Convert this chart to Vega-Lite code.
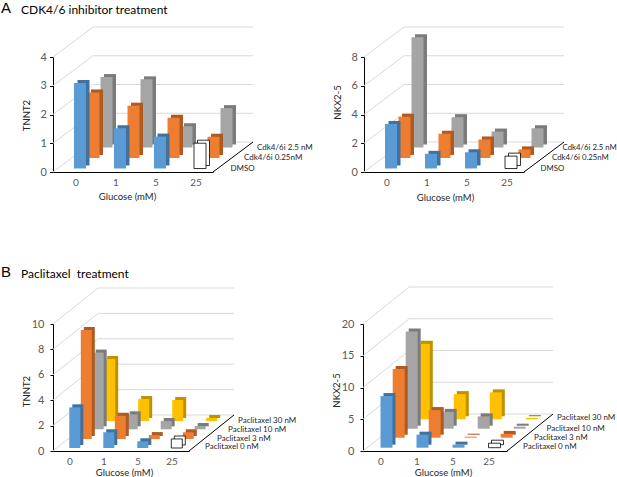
{
  "$schema": "https://vega.github.io/schema/vega-lite/v6.json",
  "padding": {"left": 1, "top": 0, "right": 0, "bottom": 0},
  "datasets": {
    "a1": [
      {"series": "DMSO", "glucose": "0", "value": 2.97},
      {"series": "DMSO", "glucose": "1", "value": 1.4},
      {"series": "DMSO", "glucose": "5", "value": 1.11},
      {"series": "DMSO", "glucose": "25", "value": 0.88},
      {"series": "Cdk4/6i 0.25nM", "glucose": "0", "value": 2.28},
      {"series": "Cdk4/6i 0.25nM", "glucose": "1", "value": 1.82},
      {"series": "Cdk4/6i 0.25nM", "glucose": "5", "value": 1.4},
      {"series": "Cdk4/6i 0.25nM", "glucose": "25", "value": 0.74},
      {"series": "Cdk4/6i 2.5 nM", "glucose": "0", "value": 2.45},
      {"series": "Cdk4/6i 2.5 nM", "glucose": "1", "value": 2.37},
      {"series": "Cdk4/6i 2.5 nM", "glucose": "5", "value": 0.74},
      {"series": "Cdk4/6i 2.5 nM", "glucose": "25", "value": 1.37}
    ],
    "a2": [
      {"series": "DMSO", "glucose": "0", "value": 3.1},
      {"series": "DMSO", "glucose": "1", "value": 1.02},
      {"series": "DMSO", "glucose": "5", "value": 1.13},
      {"series": "DMSO", "glucose": "25", "value": 0.86},
      {"series": "Cdk4/6i 0.25nM", "glucose": "0", "value": 2.87},
      {"series": "Cdk4/6i 0.25nM", "glucose": "1", "value": 1.69},
      {"series": "Cdk4/6i 0.25nM", "glucose": "5", "value": 1.29},
      {"series": "Cdk4/6i 0.25nM", "glucose": "25", "value": 0.6},
      {"series": "Cdk4/6i 2.5 nM", "glucose": "0", "value": 7.67},
      {"series": "Cdk4/6i 2.5 nM", "glucose": "1", "value": 2.11},
      {"series": "Cdk4/6i 2.5 nM", "glucose": "5", "value": 1.11},
      {"series": "Cdk4/6i 2.5 nM", "glucose": "25", "value": 1.34}
    ],
    "b1": [
      {"series": "Paclitaxel 0 nM", "glucose": "0", "value": 3.2},
      {"series": "Paclitaxel 0 nM", "glucose": "1", "value": 1.24},
      {"series": "Paclitaxel 0 nM", "glucose": "5", "value": 0.53},
      {"series": "Paclitaxel 0 nM", "glucose": "25", "value": 0.71},
      {"series": "Paclitaxel 3 nM", "glucose": "0", "value": 8.58},
      {"series": "Paclitaxel 3 nM", "glucose": "1", "value": 1.83},
      {"series": "Paclitaxel 3 nM", "glucose": "5", "value": 0.31},
      {"series": "Paclitaxel 3 nM", "glucose": "25", "value": 0.53},
      {"series": "Paclitaxel 10 nM", "glucose": "0", "value": 6.04},
      {"series": "Paclitaxel 10 nM", "glucose": "1", "value": 1.18},
      {"series": "Paclitaxel 10 nM", "glucose": "5", "value": 0.65},
      {"series": "Paclitaxel 10 nM", "glucose": "25", "value": 0.26},
      {"series": "Paclitaxel 30 nM", "glucose": "0", "value": 4.88},
      {"series": "Paclitaxel 30 nM", "glucose": "1", "value": 1.73},
      {"series": "Paclitaxel 30 nM", "glucose": "5", "value": 1.65},
      {"series": "Paclitaxel 30 nM", "glucose": "25", "value": 0.24}
    ],
    "b2": [
      {"series": "Paclitaxel 0 nM", "glucose": "0", "value": 8.13},
      {"series": "Paclitaxel 0 nM", "glucose": "1", "value": 2.05},
      {"series": "Paclitaxel 0 nM", "glucose": "5", "value": 0.48},
      {"series": "Paclitaxel 0 nM", "glucose": "25", "value": 0.71},
      {"series": "Paclitaxel 3 nM", "glucose": "0", "value": 10.8},
      {"series": "Paclitaxel 3 nM", "glucose": "1", "value": 4.35},
      {"series": "Paclitaxel 3 nM", "glucose": "5", "value": 0.16},
      {"series": "Paclitaxel 3 nM", "glucose": "25", "value": 0.6},
      {"series": "Paclitaxel 10 nM", "glucose": "0", "value": 15.3},
      {"series": "Paclitaxel 10 nM", "glucose": "1", "value": 2.65},
      {"series": "Paclitaxel 10 nM", "glucose": "5", "value": 1.94},
      {"series": "Paclitaxel 10 nM", "glucose": "25", "value": 0.32},
      {"series": "Paclitaxel 30 nM", "glucose": "0", "value": 11.9},
      {"series": "Paclitaxel 30 nM", "glucose": "1", "value": 3.97},
      {"series": "Paclitaxel 30 nM", "glucose": "5", "value": 4.24},
      {"series": "Paclitaxel 30 nM", "glucose": "25", "value": 0.21}
    ],
    "ta1": [{"value": 0}, {"value": 1}, {"value": 2}, {"value": 3}, {"value": 4}],
    "ta2": [{"value": 0}, {"value": 2}, {"value": 4}, {"value": 6}, {"value": 8}],
    "tb1": [{"value": 0}, {"value": 2}, {"value": 4}, {"value": 6}, {"value": 8}, {"value": 10}],
    "tb2": [{"value": 0}, {"value": 5}, {"value": 10}, {"value": 15}, {"value": 20}]
  },
  "vconcat": [
    {
      "hconcat": [
        {
          "width": 160, "height": 115,
          "title": {"text": "CDK4/6 inhibitor treatment", "anchor": "start", "fontSize": 12, "offset": 10},
          "data": {"name": "a1"},
          "encoding": {
            "y": {"field": "value", "type": "quantitative", "scale": {"domain": [0, 4], "nice": false},
                  "axis": {"title": "TNNT2", "values": [0, 1, 2, 3, 4], "labelOverlap": false, "tickSize": 3.5, "labelPadding": 3, "titleX": -27, "titleY": 58, "titleBaseline": "middle"}}
          },
          "layer": [
            {"data": {"name": "ta1"},
             "mark": {"type": "rule", "color": "#D9D9D9", "x2Offset": 40, "y2Offset": -30},
             "encoding": {
               "x": {"datum": "0", "bandPosition": 0, "type": "nominal",
                     "scale": {"domain": ["0", "1", "5", "25"], "paddingInner": 0, "paddingOuter": 0},
                     "axis": {"title": "Glucose (mM)", "labelAngle": 0, "ticks": false, "labelPadding": 5, "labelOffset": 3, "titleX": 74, "titleY": 24, "titleBaseline": "middle"}},
               "x2": {"datum": "0", "bandPosition": 0},
               "y2": {"field": "value"}
             }},
            {"data": {"name": "ta1"},
             "mark": {"type": "rule", "color": "#D9D9D9", "xOffset": 40, "x2Offset": 40, "yOffset": -30},
             "encoding": {
               "x": {"datum": "0", "bandPosition": 0, "type": "nominal"},
               "x2": {"datum": "25", "bandPosition": 1}
             }},
            {"data": {"name": "ta1"},
             "transform": [{"filter": "datum.value === 0"}],
             "mark": {"type": "rule", "color": "#000000", "x2Offset": 40, "y2Offset": -30},
             "encoding": {
               "x": {"datum": "25", "bandPosition": 1, "type": "nominal"},
               "x2": {"datum": "25", "bandPosition": 1},
               "y2": {"field": "value"}
             }},
            {"transform": [{"filter": {"field": "series", "equal": "Cdk4/6i 2.5 nM"}}],
             "mark": {"type": "bar", "width": 12, "xOffset": 37, "yOffset": -27.5, "y2Offset": -27.5, "color": "#7B7B7B"},
             "encoding": {"x": {"field": "glucose", "type": "nominal"}}},
            {"transform": [{"filter": {"field": "series", "equal": "Cdk4/6i 2.5 nM"}}],
             "mark": {"type": "bar", "width": 12, "xOffset": 33.5, "yOffset": -24.5, "y2Offset": -24.5, "color": "#A5A5A5"},
             "encoding": {"x": {"field": "glucose", "type": "nominal"}}},
            {"transform": [{"filter": {"field": "series", "equal": "Cdk4/6i 2.5 nM"}}, {"filter": {"field": "glucose", "equal": "25"}}],
             "mark": {"type": "text", "align": "left", "baseline": "middle", "fontSize": 8, "dx": 44, "dy": -24.5},
             "encoding": {"x": {"field": "glucose", "type": "nominal", "bandPosition": 1}, "y": {"datum": 0, "type": "quantitative"}, "text": {"field": "series"}}},
            {"transform": [{"filter": {"field": "series", "equal": "Cdk4/6i 0.25nM"}}],
             "mark": {"type": "bar", "width": 12, "xOffset": 24, "yOffset": -17, "y2Offset": -17, "color": "#AE5A21"},
             "encoding": {"x": {"field": "glucose", "type": "nominal"}}},
            {"transform": [{"filter": {"field": "series", "equal": "Cdk4/6i 0.25nM"}}],
             "mark": {"type": "bar", "width": 12, "xOffset": 20.5, "yOffset": -14, "y2Offset": -14, "color": "#ED7D31"},
             "encoding": {"x": {"field": "glucose", "type": "nominal"}}},
            {"transform": [{"filter": {"field": "series", "equal": "Cdk4/6i 0.25nM"}}, {"filter": {"field": "glucose", "equal": "25"}}],
             "mark": {"type": "text", "align": "left", "baseline": "middle", "fontSize": 8, "dx": 31, "dy": -14},
             "encoding": {"x": {"field": "glucose", "type": "nominal", "bandPosition": 1}, "y": {"datum": 0, "type": "quantitative"}, "text": {"field": "series"}}},
            {"transform": [{"filter": {"field": "series", "equal": "DMSO"}}],
             "mark": {"type": "bar", "width": 12, "xOffset": 10.5, "yOffset": -6.5, "y2Offset": -6.5, "strokeWidth": 0.8},
             "encoding": {"x": {"field": "glucose", "type": "nominal"},
               "color": {"condition": {"test": "datum.glucose === '25'", "value": "#FFFFFF"}, "value": "#41719C"},
               "stroke": {"condition": {"test": "datum.glucose === '25'", "value": "#000000"}, "value": "transparent"}}},
            {"transform": [{"filter": {"field": "series", "equal": "DMSO"}}],
             "mark": {"type": "bar", "width": 12, "xOffset": 7, "yOffset": -3.5, "y2Offset": -3.5, "strokeWidth": 0.8},
             "encoding": {"x": {"field": "glucose", "type": "nominal"},
               "color": {"condition": {"test": "datum.glucose === '25'", "value": "#FFFFFF"}, "value": "#5B9BD5"},
               "stroke": {"condition": {"test": "datum.glucose === '25'", "value": "#000000"}, "value": "transparent"}}},
            {"transform": [{"filter": {"field": "series", "equal": "DMSO"}}, {"filter": {"field": "glucose", "equal": "25"}}],
             "mark": {"type": "text", "align": "left", "baseline": "middle", "fontSize": 8, "dx": 17.5, "dy": -3.5},
             "encoding": {"x": {"field": "glucose", "type": "nominal", "bandPosition": 1}, "y": {"datum": 0, "type": "quantitative"}, "text": {"field": "series"}}}
          ]
        },
        {
          "width": 160, "height": 115,
          "data": {"name": "a2"},
          "encoding": {
            "y": {"field": "value", "type": "quantitative", "scale": {"domain": [0, 8], "nice": false},
                  "axis": {"title": "NKX2-5", "values": [0, 2, 4, 6, 8], "labelOverlap": false, "tickSize": 3.5, "labelPadding": 3, "titleX": -27, "titleY": 45, "titleBaseline": "middle"}}
          },
          "layer": [
            {"data": {"name": "ta2"},
             "mark": {"type": "rule", "color": "#D9D9D9", "x2Offset": 40, "y2Offset": -30},
             "encoding": {
               "x": {"datum": "0", "bandPosition": 0, "type": "nominal",
                     "scale": {"domain": ["0", "1", "5", "25"], "paddingInner": 0, "paddingOuter": 0},
                     "axis": {"title": "Glucose (mM)", "labelAngle": 0, "ticks": false, "labelPadding": 5, "labelOffset": 3, "titleX": 81, "titleY": 25, "titleBaseline": "middle"}},
               "x2": {"datum": "0", "bandPosition": 0},
               "y2": {"field": "value"}
             }},
            {"data": {"name": "ta2"},
             "mark": {"type": "rule", "color": "#D9D9D9", "xOffset": 40, "x2Offset": 40, "yOffset": -30},
             "encoding": {
               "x": {"datum": "0", "bandPosition": 0, "type": "nominal"},
               "x2": {"datum": "25", "bandPosition": 1}
             }},
            {"data": {"name": "ta2"},
             "transform": [{"filter": "datum.value === 0"}],
             "mark": {"type": "rule", "color": "#000000", "x2Offset": 40, "y2Offset": -30},
             "encoding": {
               "x": {"datum": "25", "bandPosition": 1, "type": "nominal"},
               "x2": {"datum": "25", "bandPosition": 1},
               "y2": {"field": "value"}
             }},
            {"transform": [{"filter": {"field": "series", "equal": "Cdk4/6i 2.5 nM"}}],
             "mark": {"type": "bar", "width": 12, "xOffset": 37, "yOffset": -27.5, "y2Offset": -27.5, "color": "#7B7B7B"},
             "encoding": {"x": {"field": "glucose", "type": "nominal"}}},
            {"transform": [{"filter": {"field": "series", "equal": "Cdk4/6i 2.5 nM"}}],
             "mark": {"type": "bar", "width": 12, "xOffset": 33.5, "yOffset": -24.5, "y2Offset": -24.5, "color": "#A5A5A5"},
             "encoding": {"x": {"field": "glucose", "type": "nominal"}}},
            {"transform": [{"filter": {"field": "series", "equal": "Cdk4/6i 2.5 nM"}}, {"filter": {"field": "glucose", "equal": "25"}}],
             "mark": {"type": "text", "align": "left", "baseline": "middle", "fontSize": 7.8, "dx": 38.5, "dy": -24.5},
             "encoding": {"x": {"field": "glucose", "type": "nominal", "bandPosition": 1}, "y": {"datum": 0, "type": "quantitative"}, "text": {"field": "series"}}},
            {"transform": [{"filter": {"field": "series", "equal": "Cdk4/6i 0.25nM"}}],
             "mark": {"type": "bar", "width": 12, "xOffset": 24, "yOffset": -17, "y2Offset": -17, "color": "#AE5A21"},
             "encoding": {"x": {"field": "glucose", "type": "nominal"}}},
            {"transform": [{"filter": {"field": "series", "equal": "Cdk4/6i 0.25nM"}}],
             "mark": {"type": "bar", "width": 12, "xOffset": 20.5, "yOffset": -14, "y2Offset": -14, "color": "#ED7D31"},
             "encoding": {"x": {"field": "glucose", "type": "nominal"}}},
            {"transform": [{"filter": {"field": "series", "equal": "Cdk4/6i 0.25nM"}}, {"filter": {"field": "glucose", "equal": "25"}}],
             "mark": {"type": "text", "align": "left", "baseline": "middle", "fontSize": 7.8, "dx": 28, "dy": -14},
             "encoding": {"x": {"field": "glucose", "type": "nominal", "bandPosition": 1}, "y": {"datum": 0, "type": "quantitative"}, "text": {"field": "series"}}},
            {"transform": [{"filter": {"field": "series", "equal": "DMSO"}}],
             "mark": {"type": "bar", "width": 12, "xOffset": 10.5, "yOffset": -6.5, "y2Offset": -6.5, "strokeWidth": 0.8},
             "encoding": {"x": {"field": "glucose", "type": "nominal"},
               "color": {"condition": {"test": "datum.glucose === '25'", "value": "#FFFFFF"}, "value": "#41719C"},
               "stroke": {"condition": {"test": "datum.glucose === '25'", "value": "#000000"}, "value": "transparent"}}},
            {"transform": [{"filter": {"field": "series", "equal": "DMSO"}}],
             "mark": {"type": "bar", "width": 12, "xOffset": 7, "yOffset": -3.5, "y2Offset": -3.5, "strokeWidth": 0.8},
             "encoding": {"x": {"field": "glucose", "type": "nominal"},
               "color": {"condition": {"test": "datum.glucose === '25'", "value": "#FFFFFF"}, "value": "#5B9BD5"},
               "stroke": {"condition": {"test": "datum.glucose === '25'", "value": "#000000"}, "value": "transparent"}}},
            {"transform": [{"filter": {"field": "series", "equal": "DMSO"}}, {"filter": {"field": "glucose", "equal": "25"}}],
             "mark": {"type": "text", "align": "left", "baseline": "middle", "fontSize": 7.8, "dx": 16.5, "dy": -3.5},
             "encoding": {"x": {"field": "glucose", "type": "nominal", "bandPosition": 1}, "y": {"datum": 0, "type": "quantitative"}, "text": {"field": "series"}}}
          ]
        }
      ],
      "spacing": 151,
      "bounds": "flush",
      "title": {"text": "A", "anchor": "start", "fontSize": 15, "font": "Liberation Sans", "dx": -20, "dy": 12, "offset": 0}
    },
    {
      "hconcat": [
        {
          "width": 136, "height": 127,
          "title": {"text": "Paclitaxel\u00a0 treatment", "anchor": "start", "fontSize": 12, "offset": 7},
          "data": {"name": "b1"},
          "encoding": {
            "y": {"field": "value", "type": "quantitative", "scale": {"domain": [0, 10], "nice": false},
                  "axis": {"title": "TNNT2", "values": [0, 2, 4, 6, 8, 10], "labelOverlap": false, "tickSize": 3, "labelPadding": 6, "titleX": -27, "titleY": 67, "titleBaseline": "middle"}}
          },
          "layer": [
            {"data": {"name": "tb1"},
             "mark": {"type": "rule", "color": "#D9D9D9", "x2Offset": 45, "y2Offset": -36},
             "encoding": {
               "x": {"datum": "0", "bandPosition": 0, "type": "nominal",
                     "scale": {"domain": ["0", "1", "5", "25"], "paddingInner": 0, "paddingOuter": 0},
                     "axis": {"title": "Glucose (mM)", "labelAngle": 0, "ticks": false, "labelPadding": 5, "titleX": 71, "titleY": 21, "titleBaseline": "middle"}},
               "x2": {"datum": "0", "bandPosition": 0},
               "y2": {"field": "value"}
             }},
            {"data": {"name": "tb1"},
             "mark": {"type": "rule", "color": "#D9D9D9", "xOffset": 45, "x2Offset": 45, "yOffset": -36},
             "encoding": {
               "x": {"datum": "0", "bandPosition": 0, "type": "nominal"},
               "x2": {"datum": "25", "bandPosition": 1}
             }},
            {"data": {"name": "tb1"},
             "transform": [{"filter": "datum.value === 0"}],
             "mark": {"type": "rule", "color": "#000000", "x2Offset": 45, "y2Offset": -36},
             "encoding": {
               "x": {"datum": "25", "bandPosition": 1, "type": "nominal"},
               "x2": {"datum": "25", "bandPosition": 1},
               "y2": {"field": "value"}
             }},
            {"transform": [{"filter": {"field": "series", "equal": "Paclitaxel 30 nM"}}],
             "mark": {"type": "bar", "width": 11, "xOffset": 42.7, "yOffset": -33, "y2Offset": -33, "color": "#BF9000"},
             "encoding": {"x": {"field": "glucose", "type": "nominal"}}},
            {"transform": [{"filter": {"field": "series", "equal": "Paclitaxel 30 nM"}}],
             "mark": {"type": "bar", "width": 11, "xOffset": 39.7, "yOffset": -30, "y2Offset": -30, "color": "#FFC000"},
             "encoding": {"x": {"field": "glucose", "type": "nominal"}}},
            {"transform": [{"filter": {"field": "series", "equal": "Paclitaxel 30 nM"}}, {"filter": {"field": "glucose", "equal": "25"}}],
             "mark": {"type": "text", "align": "left", "baseline": "middle", "fontSize": 8, "dx": 49, "dy": -30},
             "encoding": {"x": {"field": "glucose", "type": "nominal", "bandPosition": 1}, "y": {"datum": 0, "type": "quantitative"}, "text": {"field": "series"}}},
            {"transform": [{"filter": {"field": "series", "equal": "Paclitaxel 10 nM"}}],
             "mark": {"type": "bar", "width": 11, "xOffset": 31.2, "yOffset": -24.7, "y2Offset": -24.7, "color": "#7B7B7B"},
             "encoding": {"x": {"field": "glucose", "type": "nominal"}}},
            {"transform": [{"filter": {"field": "series", "equal": "Paclitaxel 10 nM"}}],
             "mark": {"type": "bar", "width": 11, "xOffset": 28.2, "yOffset": -21.7, "y2Offset": -21.7, "color": "#A5A5A5"},
             "encoding": {"x": {"field": "glucose", "type": "nominal"}}},
            {"transform": [{"filter": {"field": "series", "equal": "Paclitaxel 10 nM"}}, {"filter": {"field": "glucose", "equal": "25"}}],
             "mark": {"type": "text", "align": "left", "baseline": "middle", "fontSize": 8, "dx": 39, "dy": -21},
             "encoding": {"x": {"field": "glucose", "type": "nominal", "bandPosition": 1}, "y": {"datum": 0, "type": "quantitative"}, "text": {"field": "series"}}},
            {"transform": [{"filter": {"field": "series", "equal": "Paclitaxel 3 nM"}}],
             "mark": {"type": "bar", "width": 11, "xOffset": 19.3, "yOffset": -15, "y2Offset": -15, "color": "#AE5A21"},
             "encoding": {"x": {"field": "glucose", "type": "nominal"}}},
            {"transform": [{"filter": {"field": "series", "equal": "Paclitaxel 3 nM"}}],
             "mark": {"type": "bar", "width": 11, "xOffset": 16.3, "yOffset": -12, "y2Offset": -12, "color": "#ED7D31"},
             "encoding": {"x": {"field": "glucose", "type": "nominal"}}},
            {"transform": [{"filter": {"field": "series", "equal": "Paclitaxel 3 nM"}}, {"filter": {"field": "glucose", "equal": "25"}}],
             "mark": {"type": "text", "align": "left", "baseline": "middle", "fontSize": 8, "dx": 28, "dy": -12.5},
             "encoding": {"x": {"field": "glucose", "type": "nominal", "bandPosition": 1}, "y": {"datum": 0, "type": "quantitative"}, "text": {"field": "series"}}},
            {"transform": [{"filter": {"field": "series", "equal": "Paclitaxel 0 nM"}}],
             "mark": {"type": "bar", "width": 11, "xOffset": 7.8, "yOffset": -6, "y2Offset": -6, "strokeWidth": 0.8},
             "encoding": {"x": {"field": "glucose", "type": "nominal"},
               "color": {"condition": {"test": "datum.glucose === '25'", "value": "#FFFFFF"}, "value": "#41719C"},
               "stroke": {"condition": {"test": "datum.glucose === '25'", "value": "#000000"}, "value": "transparent"}}},
            {"transform": [{"filter": {"field": "series", "equal": "Paclitaxel 0 nM"}}],
             "mark": {"type": "bar", "width": 11, "xOffset": 4.8, "yOffset": -3, "y2Offset": -3, "strokeWidth": 0.8},
             "encoding": {"x": {"field": "glucose", "type": "nominal"},
               "color": {"condition": {"test": "datum.glucose === '25'", "value": "#FFFFFF"}, "value": "#5B9BD5"},
               "stroke": {"condition": {"test": "datum.glucose === '25'", "value": "#000000"}, "value": "transparent"}}},
            {"transform": [{"filter": {"field": "series", "equal": "Paclitaxel 0 nM"}}, {"filter": {"field": "glucose", "equal": "25"}}],
             "mark": {"type": "text", "align": "left", "baseline": "middle", "fontSize": 8, "dx": 16, "dy": -4},
             "encoding": {"x": {"field": "glucose", "type": "nominal", "bandPosition": 1}, "y": {"datum": 0, "type": "quantitative"}, "text": {"field": "series"}}}
          ]
        },
        {
          "width": 144, "height": 127,
          "data": {"name": "b2"},
          "encoding": {
            "y": {"field": "value", "type": "quantitative", "scale": {"domain": [0, 20], "nice": false},
                  "axis": {"title": "NKX2-5", "values": [0, 5, 10, 15, 20], "labelOverlap": false, "tickSize": 3, "labelPadding": 6, "titleX": -27, "titleY": 66, "titleBaseline": "middle"}}
          },
          "layer": [
            {"data": {"name": "tb2"},
             "mark": {"type": "rule", "color": "#D9D9D9", "x2Offset": 46, "y2Offset": -37},
             "encoding": {
               "x": {"datum": "0", "bandPosition": 0, "type": "nominal",
                     "scale": {"domain": ["0", "1", "5", "25"], "paddingInner": 0, "paddingOuter": 0},
                     "axis": {"title": "Glucose (mM)", "labelAngle": 0, "ticks": false, "labelPadding": 5, "titleX": 80, "titleY": 21, "titleBaseline": "middle"}},
               "x2": {"datum": "0", "bandPosition": 0},
               "y2": {"field": "value"}
             }},
            {"data": {"name": "tb2"},
             "mark": {"type": "rule", "color": "#D9D9D9", "xOffset": 46, "x2Offset": 46, "yOffset": -37},
             "encoding": {
               "x": {"datum": "0", "bandPosition": 0, "type": "nominal"},
               "x2": {"datum": "25", "bandPosition": 1}
             }},
            {"data": {"name": "tb2"},
             "transform": [{"filter": "datum.value === 0"}],
             "mark": {"type": "rule", "color": "#000000", "x2Offset": 46, "y2Offset": -37},
             "encoding": {
               "x": {"datum": "25", "bandPosition": 1, "type": "nominal"},
               "x2": {"datum": "25", "bandPosition": 1},
               "y2": {"field": "value"}
             }},
            {"transform": [{"filter": {"field": "series", "equal": "Paclitaxel 30 nM"}}],
             "mark": {"type": "bar", "width": 12, "xOffset": 45.8, "yOffset": -34.7, "y2Offset": -34.7, "color": "#BF9000"},
             "encoding": {"x": {"field": "glucose", "type": "nominal"}}},
            {"transform": [{"filter": {"field": "series", "equal": "Paclitaxel 30 nM"}}],
             "mark": {"type": "bar", "width": 12, "xOffset": 42.8, "yOffset": -31.7, "y2Offset": -31.7, "color": "#FFC000"},
             "encoding": {"x": {"field": "glucose", "type": "nominal"}}},
            {"transform": [{"filter": {"field": "series", "equal": "Paclitaxel 30 nM"}}, {"filter": {"field": "glucose", "equal": "25"}}],
             "mark": {"type": "text", "align": "left", "baseline": "middle", "fontSize": 8, "dx": 50, "dy": -33},
             "encoding": {"x": {"field": "glucose", "type": "nominal", "bandPosition": 1}, "y": {"datum": 0, "type": "quantitative"}, "text": {"field": "series"}}},
            {"transform": [{"filter": {"field": "series", "equal": "Paclitaxel 10 nM"}}],
             "mark": {"type": "bar", "width": 12, "xOffset": 33.7, "yOffset": -25.3, "y2Offset": -25.3, "color": "#7B7B7B"},
             "encoding": {"x": {"field": "glucose", "type": "nominal"}}},
            {"transform": [{"filter": {"field": "series", "equal": "Paclitaxel 10 nM"}}],
             "mark": {"type": "bar", "width": 12, "xOffset": 30.7, "yOffset": -22.3, "y2Offset": -22.3, "color": "#A5A5A5"},
             "encoding": {"x": {"field": "glucose", "type": "nominal"}}},
            {"transform": [{"filter": {"field": "series", "equal": "Paclitaxel 10 nM"}}, {"filter": {"field": "glucose", "equal": "25"}}],
             "mark": {"type": "text", "align": "left", "baseline": "middle", "fontSize": 8, "dx": 39.5, "dy": -22},
             "encoding": {"x": {"field": "glucose", "type": "nominal", "bandPosition": 1}, "y": {"datum": 0, "type": "quantitative"}, "text": {"field": "series"}}},
            {"transform": [{"filter": {"field": "series", "equal": "Paclitaxel 3 nM"}}],
             "mark": {"type": "bar", "width": 12, "xOffset": 20.7, "yOffset": -16.3, "y2Offset": -16.3, "color": "#AE5A21"},
             "encoding": {"x": {"field": "glucose", "type": "nominal"}}},
            {"transform": [{"filter": {"field": "series", "equal": "Paclitaxel 3 nM"}}],
             "mark": {"type": "bar", "width": 12, "xOffset": 17.7, "yOffset": -13.3, "y2Offset": -13.3, "color": "#ED7D31"},
             "encoding": {"x": {"field": "glucose", "type": "nominal"}}},
            {"transform": [{"filter": {"field": "series", "equal": "Paclitaxel 3 nM"}}, {"filter": {"field": "glucose", "equal": "25"}}],
             "mark": {"type": "text", "align": "left", "baseline": "middle", "fontSize": 8, "dx": 27, "dy": -13},
             "encoding": {"x": {"field": "glucose", "type": "nominal", "bandPosition": 1}, "y": {"datum": 0, "type": "quantitative"}, "text": {"field": "series"}}},
            {"transform": [{"filter": {"field": "series", "equal": "Paclitaxel 0 nM"}}],
             "mark": {"type": "bar", "width": 12, "xOffset": 8.5, "yOffset": -6.3, "y2Offset": -6.3, "strokeWidth": 0.8},
             "encoding": {"x": {"field": "glucose", "type": "nominal"},
               "color": {"condition": {"test": "datum.glucose === '25'", "value": "#FFFFFF"}, "value": "#41719C"},
               "stroke": {"condition": {"test": "datum.glucose === '25'", "value": "#000000"}, "value": "transparent"}}},
            {"transform": [{"filter": {"field": "series", "equal": "Paclitaxel 0 nM"}}],
             "mark": {"type": "bar", "width": 12, "xOffset": 5.5, "yOffset": -3.3, "y2Offset": -3.3, "strokeWidth": 0.8},
             "encoding": {"x": {"field": "glucose", "type": "nominal"},
               "color": {"condition": {"test": "datum.glucose === '25'", "value": "#FFFFFF"}, "value": "#5B9BD5"},
               "stroke": {"condition": {"test": "datum.glucose === '25'", "value": "#000000"}, "value": "transparent"}}},
            {"transform": [{"filter": {"field": "series", "equal": "Paclitaxel 0 nM"}}, {"filter": {"field": "glucose", "equal": "25"}}],
             "mark": {"type": "text", "align": "left", "baseline": "middle", "fontSize": 8, "dx": 16, "dy": -4},
             "encoding": {"x": {"field": "glucose", "type": "nominal", "bandPosition": 1}, "y": {"datum": 0, "type": "quantitative"}, "text": {"field": "series"}}}
          ]
        }
      ],
      "spacing": 174,
      "bounds": "flush",
      "title": {"text": "B", "anchor": "start", "fontSize": 15, "font": "Liberation Sans", "dx": -20, "dy": 12, "offset": 0}
    }
  ],
  "spacing": 267,
  "bounds": "flush",
  "config": {
    "view": {"stroke": null},
    "font": "Lato",
    "title": {"color": "#000000", "fontWeight": "normal", "font": "Lato"},
    "axis": {
      "grid": false,
      "labelFont": "Lato", "titleFont": "Lato",
      "domainColor": "#000000", "tickColor": "#000000",
      "labelColor": "#595959", "titleColor": "#262626",
      "labelFontSize": 11, "titleFontSize": 9.5, "titleFontWeight": "normal"
    },
    "axisX": {"labelFontSize": 10},
    "text": {"font": "Lato", "color": "#262626"}
  }
}
